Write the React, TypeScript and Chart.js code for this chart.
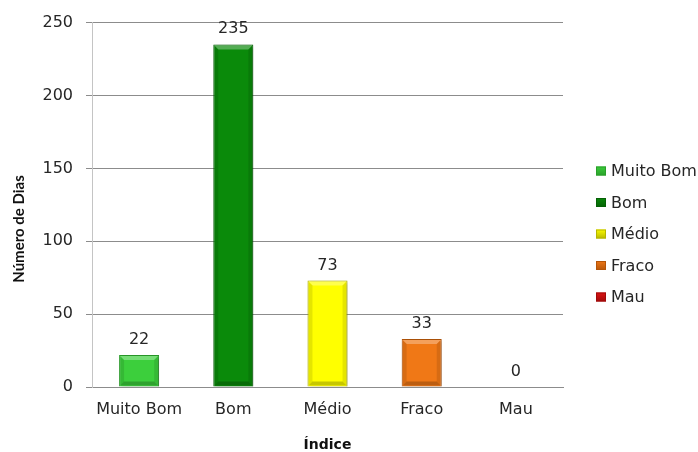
import React, { useEffect, useRef } from "react";
import { Chart, registerables } from "chart.js";

Chart.register(...registerables);

// Air-quality index: number of days in each class
const categories: string[] = ["Muito Bom", "Bom", "Médio", "Fraco", "Mau"];
const days: number[] = [22, 235, 73, 33, 0];
const fillColors: string[] = ["#3ccf3c", "#0a8a0a", "#ffff00", "#f07816", "#e01414"];
const edgeColors: string[] = ["#2a9e2a", "#056005", "#b5b500", "#b55508", "#a00a0a"];
const yTicks: number[] = [0, 50, 100, 150, 200, 250];

const yTitle = "Número de Dias";
const xTitle = "Índice";

const tickFont = { family: "'DejaVu Sans', sans-serif", size: 16 };

// soft shadow under the bars
const barShadow = {
  id: "barShadow",
  beforeDatasetsDraw(chart: any) {
    const ctx = chart.ctx;
    ctx.save();
    ctx.shadowColor = "rgba(0,0,0,0.28)";
    ctx.shadowBlur = 4;
    ctx.shadowOffsetX = 1.5;
    ctx.shadowOffsetY = 1.5;
  },
  afterDatasetsDraw(chart: any) {
    chart.ctx.restore();
  },
};

// bevelled edges on each bar
const barBevel = {
  id: "barBevel",
  afterDatasetsDraw(chart: any) {
    const ctx = chart.ctx;
    const meta = chart.getDatasetMeta(0);
    meta.data.forEach((bar: any) => {
      const { x, y, base, width } = bar.getProps(["x", "y", "base", "width"], true);
      const left = x - width / 2;
      const right = x + width / 2;
      const top = Math.min(y, base);
      const bottom = Math.max(y, base);
      const h = bottom - top;
      if (h < 2) return;
      const b = Math.min(5, h / 2, width / 4);
      ctx.save();
      ctx.fillStyle = "rgba(255,255,255,0.30)";
      ctx.beginPath();
      ctx.moveTo(left + 1, top + 1);
      ctx.lineTo(right - 1, top + 1);
      ctx.lineTo(right - b, top + b);
      ctx.lineTo(left + b, top + b);
      ctx.closePath();
      ctx.fill();
      ctx.fillStyle = "rgba(0,0,0,0.10)";
      ctx.beginPath();
      ctx.moveTo(left + 1, top + 1);
      ctx.lineTo(left + b, top + b);
      ctx.lineTo(left + b, bottom - b);
      ctx.lineTo(left + 1, bottom - 1);
      ctx.closePath();
      ctx.fill();
      ctx.beginPath();
      ctx.moveTo(right - 1, top + 1);
      ctx.lineTo(right - b, top + b);
      ctx.lineTo(right - b, bottom - b);
      ctx.lineTo(right - 1, bottom - 1);
      ctx.closePath();
      ctx.fill();
      ctx.fillStyle = "rgba(0,0,0,0.22)";
      ctx.beginPath();
      ctx.moveTo(left + 1, bottom - 1);
      ctx.lineTo(right - 1, bottom - 1);
      ctx.lineTo(right - b, bottom - b);
      ctx.lineTo(left + b, bottom - b);
      ctx.closePath();
      ctx.fill();
      ctx.restore();
    });
  },
};

// value written above every bar
const valueLabels = {
  id: "valueLabels",
  afterDatasetsDraw(chart: any) {
    const ctx = chart.ctx;
    const meta = chart.getDatasetMeta(0);
    const values = chart.data.datasets[0].data as number[];
    ctx.save();
    ctx.font = "16px 'DejaVu Sans', sans-serif";
    ctx.fillStyle = "#262626";
    ctx.textAlign = "center";
    ctx.textBaseline = "alphabetic";
    meta.data.forEach((bar: any, i: number) => {
      const { x, y } = bar.getProps(["x", "y"], true);
      ctx.fillText(String(values[i]), x, y - 11);
    });
    ctx.restore();
  },
};

// rotated y-axis title
const yAxisTitle = {
  id: "yAxisTitle",
  afterDraw(chart: any) {
    const ctx = chart.ctx;
    ctx.save();
    ctx.translate(19, 229);
    ctx.rotate(-Math.PI / 2);
    ctx.font = "bold 15px Lato, sans-serif";
    ctx.fillStyle = "#111";
    ctx.textAlign = "center";
    ctx.textBaseline = "middle";
    ctx.fillText(yTitle, 0, 0);
    ctx.restore();
  },
};

// legend listing each class with its colour
const sideLegend = {
  id: "sideLegend",
  afterDraw(chart: any) {
    const ctx = chart.ctx;
    const x0 = 596;
    const y0 = 171;
    const step = 31.5;
    ctx.save();
    ctx.font = "16px 'DejaVu Sans', sans-serif";
    ctx.textBaseline = "middle";
    ctx.textAlign = "left";
    categories.forEach((name, i) => {
      const cy = y0 + i * step;
      const g = ctx.createLinearGradient(0, cy - 5, 0, cy + 5);
      g.addColorStop(0, fillColors[i]);
      g.addColorStop(1, edgeColors[i]);
      ctx.fillStyle = g;
      ctx.fillRect(x0, cy - 4.5, 10, 9);
      ctx.strokeStyle = edgeColors[i];
      ctx.lineWidth = 1;
      ctx.strokeRect(x0 + 0.5, cy - 4, 9, 8);
      ctx.fillStyle = "#262626";
      ctx.fillText(name, x0 + 15, cy + 1);
    });
    ctx.restore();
  },
};

export default function App() {
  const canvasRef = useRef<HTMLCanvasElement | null>(null);

  useEffect(() => {
    if (!canvasRef.current) return;
    const chart = new Chart(canvasRef.current, {
      type: "bar",
      data: {
        labels: categories,
        datasets: [
          {
            data: days,
            backgroundColor: fillColors,
            borderColor: edgeColors,
            borderWidth: (c: any) => (c.raw === 0 ? 0 : 1),
            categoryPercentage: 1,
            barPercentage: 0.425,
          },
        ],
      },
      options: {
        responsive: false,
        animation: false,
        events: [],
        layout: { padding: { top: 20, right: 135, bottom: 0, left: 0 } },
        plugins: {
          legend: { display: false },
          title: { display: false },
          tooltip: { enabled: false },
        },
        scales: {
          x: {
            grid: { display: false, drawTicks: false },
            border: { display: true, color: "#8c8c8c" },
            ticks: { font: tickFont, color: "#262626", padding: 13, maxRotation: 0 },
            title: {
              display: true,
              text: xTitle,
              font: { family: "'DejaVu Sans', sans-serif", size: 14, weight: "bold", lineHeight: 1 },
              color: "#111",
              padding: { top: 0, bottom: 0 },
            },
            afterFit: (s: any) => {
              s.height = 65;
            },
          },
          y: {
            min: 0,
            max: 250,
            afterBuildTicks: (s: any) => {
              s.ticks = yTicks.map((v) => ({ value: v }));
            },
            grid: {
              color: "#8c8c8c",
              tickColor: "#8c8c8c",
              drawTicks: true,
              tickLength: 6,
            },
            border: { display: true, color: "#c4c4c4" },
            ticks: { font: tickFont, color: "#262626", padding: 13 },
            afterFit: (s: any) => {
              s.width = 92;
            },
          },
        },
      },
      plugins: [barShadow, barBevel, valueLabels, yAxisTitle, sideLegend],
    });
    return () => chart.destroy();
  }, []);

  return (
    <div style={{ position: "fixed", left: 0, top: 0, width: 698, height: 452, background: "#fff" }}>
      <canvas ref={canvasRef} width={698} height={452} style={{ display: "block" }} />
    </div>
  );
}
